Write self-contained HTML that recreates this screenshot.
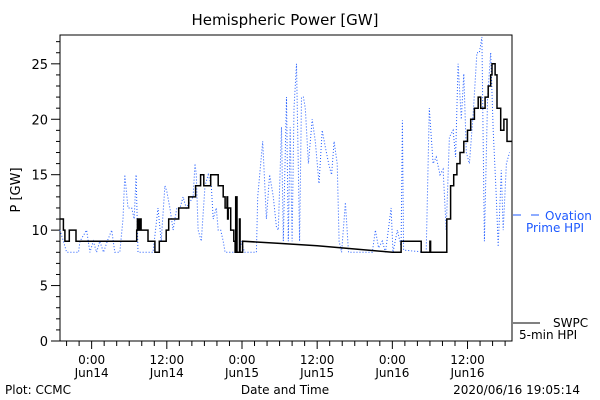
<!DOCTYPE html>
<html><head><meta charset="utf-8"><style>
html,body{margin:0;padding:0;background:#fff;}
svg{display:block;font-family:"DejaVu Sans","Liberation Sans",sans-serif;}
</style></head><body>
<svg id="chart" width="600" height="400" viewBox="0 0 600 400">
<text x="285" y="25" font-size="15" text-anchor="middle">Hemispheric Power [GW]</text>
<text transform="translate(20,190) rotate(-90)" font-size="13" text-anchor="middle">P [GW]</text>
<text x="285" y="394" font-size="12" text-anchor="middle">Date and Time</text>
<text x="5" y="394" font-size="12">Plot: CCMC</text>
<text x="580" y="394" font-size="12" text-anchor="end">2020/06/16 19:05:14</text>
<g id="axes"></g>
<g id="series"></g>
<g>
<line x1="513" y1="215" x2="521" y2="215" stroke="#1e5aff" stroke-width="1"/>
<line x1="531" y1="215" x2="539" y2="215" stroke="#1e5aff" stroke-width="1"/>
<text x="545" y="220" font-size="12" fill="#1e5aff">Ovation</text>
<text x="526" y="232" font-size="12" fill="#1e5aff">Prime HPI</text>
</g>
<g>
<line x1="513" y1="323" x2="540" y2="323" stroke="#000" stroke-width="1"/>
<text x="553" y="327" font-size="12">SWPC</text>
<text x="519" y="339" font-size="12">5-min HPI</text>
</g>
</svg>
<script>
// hours relative to 2020-06-14 00:00
const swpcHours = [-5.06,-4.5,-4.26,-3.57,-2.83,-2.5,7.2,7.3,7.5,7.7,7.9,8.1,9.0,10.1,10.8,11.9,12.1,12.3,13.9,15.5,16.6,16.9,17.4,17.9,19.0,20.2,21.0,21.3,21.6,21.7,21.8,22.2,22.7,22.9,23.0,23.2,23.6,23.7,24.1,30,36,42,48,49.4,52.6,54.0,54.1,54.3,55.4,56.7,57.3,57.8,58.3,58.8,59.4,60.0,60.5,61.1,61.7,62.1,62.8,63.3,63.7,63.9,64.4,64.7,65.3,65.8,66.3,67.1];
const swpcValues = [11,10,9,10,10,9,10,11,10,11,10,10,9,8,9,10,10,11,12,13,14,14,15,14,15,14,13,12,13,11,12,10,9,8,13,8,11,8,9,8.8,8.6,8.3,8,9,8,9,8,8,8,11,14,15,16,17,18,19,20,21,22,21,22,23,24,25,24,21,19,20,18,18];
const ovationHours = [-5.06,-4.5,-4,-2.1,-1.86,-0.8,-0.27,0.26,0.8,1.3,1.9,2.5,3.2,3.7,4.5,5.0,5.3,5.8,6.4,6.8,7.1,7.4,9.8,10.6,11.1,11.7,12.0,12.5,13.0,13.6,14.1,14.6,15.1,16.2,16.5,16.7,17.0,17.5,18.1,18.6,19.1,19.4,19.9,20.2,20.6,21.0,21.3,23.6,23.9,24.4,26.3,26.5,27.3,27.9,28.4,29.0,29.5,29.8,30.3,30.6,31.1,31.4,31.7,32.0,32.3,32.7,33.2,33.5,33.8,34.1,34.6,35.2,35.7,36.3,36.8,37.3,37.9,38.3,38.7,39.2,39.5,39.9,40.5,41.0,44.8,45.3,45.8,46.4,46.9,47.8,48.1,48.8,49.4,49.6,49.8,53.4,53.9,54.5,55.0,55.6,56.1,56.6,57.1,57.7,58.1,58.5,59.0,59.4,59.8,60.3,60.9,61.5,61.9,62.3,62.7,63.2,63.7,64.1,64.6,64.9,65.4,65.7,66.2,66.7];
const ovationValues = [10,9,8,8,9,10,8,9,8,9,8,9,10,8,8,11,15,12,12,11,15,8,8,12,9,14,13.5,12,10,12,12,13,12,13,16,15,10,9,14,15,14,11,12,10,10,9,8,8,9,8,8,13,18,11,15,13,10.3,10,19.3,9,22,9,19.3,9,21,25,9,22,22,21,16,20,18,14.2,19,17.5,15.8,15,18,16,9,8,12.5,8,8,10,8.4,9,8,12,8,10,8.5,19.9,8.2,8,21,16,16.6,15,15.5,10,18.4,19,16.6,25,20,24.1,17,16,20.5,26,26,27.4,9,22,26,19,13,8.5,15.4,10,16,17];
const yTicks = [0,5,10,15,20,25];
const yTickLabels = ["0","5","10","15","20","25"];
const xTicks = [0,12,24,36,48,60];
const xTickLabels = [["0:00","Jun14"],["12:00","Jun14"],["0:00","Jun15"],["12:00","Jun15"],["0:00","Jun16"],["12:00","Jun16"]];

const L=60,R=512,T=35,B=341, xMin=-5.05, xMax=67.1, yMin=0, yMax=27.6;
const xs=h=>L+(h-xMin)/(xMax-xMin)*(R-L);
const ys=v=>B-(v-yMin)/(yMax-yMin)*(B-T);
const NS="http://www.w3.org/2000/svg";
function mk(tag,attrs,parent){const e=document.createElementNS(NS,tag);for(const k in attrs)e.setAttribute(k,attrs[k]);parent.appendChild(e);return e;}
const axes=document.getElementById('axes'), series=document.getElementById('series');

const frame=mk('rect',{x:L,y:T,width:R-L,height:B-T,fill:'none',stroke:'#000','stroke-width':1},axes);


for(let v=0;v<=27;v++){
  const major=v%5===0;
  const t=mk('line',{x1:L-(major?9:4),x2:L,y1:ys(v),y2:ys(v),stroke:'#000'},axes);
  
  
}
yTicks.forEach((v,i)=>{
  const t=mk('text',{x:L-12,y:ys(v)+5,'font-size':13,'text-anchor':'end'},axes);
  t.textContent=yTickLabels[i];
  
  
});
for(let h=-4;h<=66;h+=2){
  const major=h%12===0;
  const t=mk('line',{x1:xs(h),x2:xs(h),y1:B,y2:B+(major?8:5),stroke:'#000'},axes);
  
  
}
xTicks.forEach((h,i)=>{
  const t=mk('text',{x:xs(h),y:364,'font-size':12,'text-anchor':'middle'},axes);
  t.textContent=xTickLabels[i][0];
  
  
  const d=mk('text',{x:xs(h),y:377,'font-size':12,'text-anchor':'middle'},axes);
  d.textContent=xTickLabels[i][1];
  
  
});

let op='';
ovationHours.forEach((h,i)=>{op+=(i?'L':'M')+xs(h).toFixed(1)+','+ys(ovationValues[i]).toFixed(1);});
const ov=mk('path',{d:op,fill:'none',stroke:'#1e5aff','stroke-width':1,'stroke-dasharray':'1,2'},series);



let sp='';
swpcHours.forEach((h,i)=>{
  const x=xs(h).toFixed(1), y=ys(swpcValues[i]).toFixed(1);
  if(i===0) sp+='M'+x+','+y;
  else if(h>24.2 && h<=48.05) sp+='L'+x+','+y;
  else sp+='H'+x+'V'+y;
});
const sw=mk('path',{d:sp,fill:'none',stroke:'#000','stroke-width':1.5},series);


</script>
</body></html>
